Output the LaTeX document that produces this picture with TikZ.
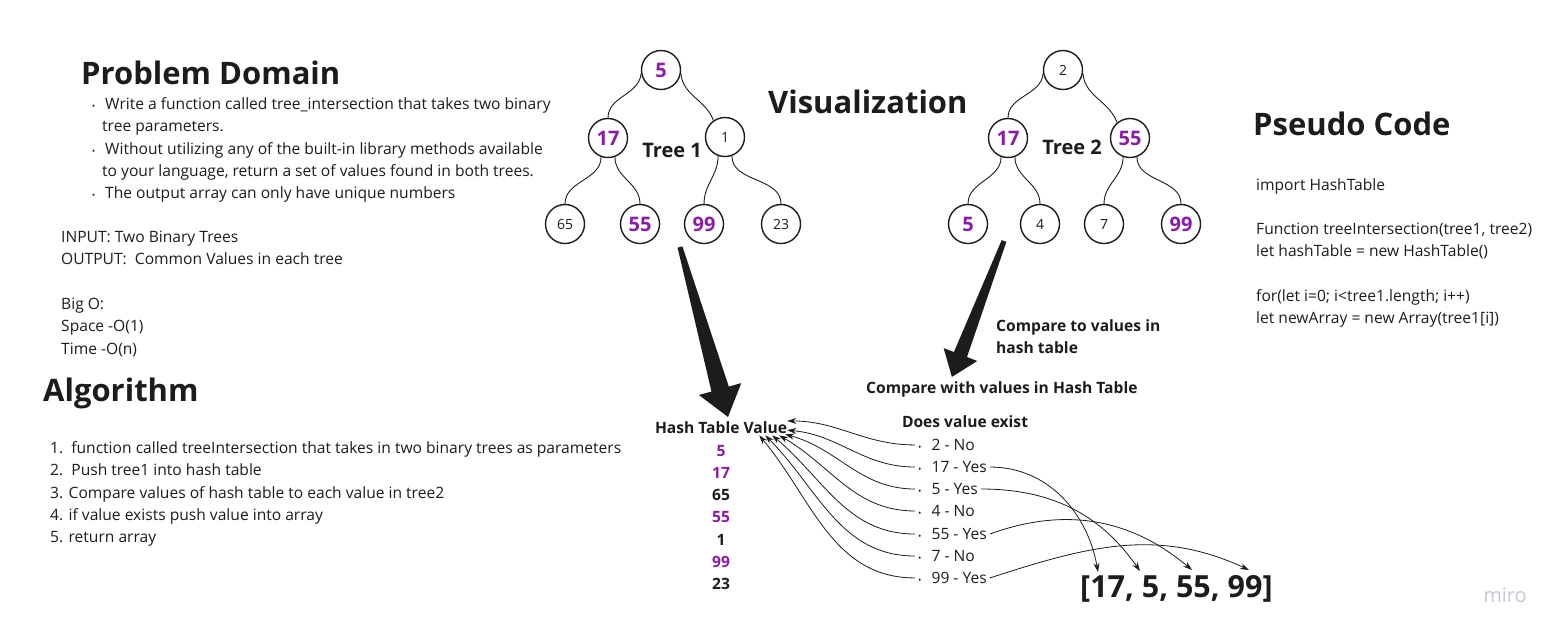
\documentclass[tikz,border=0pt]{standalone}
\usepackage{fontspec}
\setmainfont{Open Sans}
\usepackage{tikz}
\usetikzlibrary{positioning, arrows.meta, calc}

\definecolor{ink}{RGB}{28,28,28}
\definecolor{hit}{RGB}{139,27,170}
\definecolor{logo}{RGB}{196,198,208}

\newcommand{\bul}{{\fontsize{9}{9}\selectfont•}}
\newcommand{\fatarrow}[5]{%
  \coordinate (neck) at ($(#2)!#3!(#1)$);
  \fill[ink] ($(#1)!2.5pt!-90:(#2)$) -- ($(neck)!#5!-90:(#2)$) -- ($(neck)!#4!-90:(#2)$)
    -- (#2) -- ($(neck)!#4!90:(#2)$) -- ($(neck)!#5!90:(#2)$) -- ($(#1)!2.5pt!90:(#2)$) -- cycle;}

\tikzset{
  head/.style={font=\bfseries\fontsize{31}{36}\selectfont, text=ink, inner sep=0pt, anchor=base west},
  body/.style={font=\fontsize{15.6}{22.3}\selectfont, text=ink, inner sep=0pt, align=left, anchor=base west},
  lbl/.style={font=\bfseries\fontsize{15.6}{22.3}\selectfont, text=ink, inner sep=0pt},
  tnode/.style={circle, draw=ink, line width=1.4pt, minimum size=39pt, inner sep=0pt,
    font=\fontsize{14}{16}\selectfont, text=ink},
  common/.style={text=hit, font=\bfseries\fontsize{20}{22}\selectfont},
  twig/.style={out=-90, in=90},
  link/.style={-{Stealth[length=9pt,width=6pt]}, line width=0.8pt, draw=ink},
}

\begin{document}
\begin{tikzpicture}[x=1pt, y=-1pt, on grid, auto]
\useasboundingbox (0,0) rectangle (1565,638);

% headings
\node[head] (pd) at (81,84) {Problem Domain};
\node[head] (vis) at (768,113) {Visualization};
\node[head] (pc) at (1253,135) {Pseudo Code};
\node[head] (alg) at (43,401) {Algorithm};

% left column (base = last line)
\node[body] (task) at (102,198.7) {\llap{\bul\hspace{7pt}}\hspace{3pt}Write a function called tree\_intersection that takes two binary\\
  tree parameters.\\
  \llap{\bul\hspace{7pt}}\hspace{3pt}Without utilizing any of the built-in library methods available\\
  to your language, return a set of values found in both trees.\\
  \llap{\bul\hspace{7pt}}\hspace{3pt}The output array can only have unique numbers};
\node[body] (io) at (61,354) {INPUT: Two Binary Trees\\
  OUTPUT:\ \ Common Values in each tree\\[22.3pt]
  Big O:\\
  Space -O(1)\\
  Time -O(n)};
\node[body] (steps) at (50,542.7) {1.\ \ function called treeIntersection that takes in two binary trees as parameters\\
  2.\ \ Push tree1 into hash table\\
  3. Compare values of hash table to each value in tree2\\
  4. if value exists push value into array\\
  5. return array};

% pseudo code
\node[body] (code) at (1256,323.8) {import HashTable\\[22.3pt]
  Function treeIntersection(tree1, tree2)\\
  let hashTable = new HashTable()\\[22.3pt]
  for(let i=0; i<tree1.length; i++)\\
  let newArray = new Array(tree1[i])};

% tree 1
\node[tnode, common] (a5) at (661,70) {5};
\node[tnode, common] (a17) [below left=68pt and 53pt of a5] {17};
\node[tnode] (a1) [below right=67pt and 64pt of a5] {1};
\node[tnode] (a65) [below left=86pt and 43pt of a17] {65};
\node[tnode, common] (a55) [below right=86pt and 32pt of a17] {55};
\node[tnode, common] (a99) [below left=87pt and 21pt of a1] {99};
\node[tnode] (a23) [below right=87pt and 56pt of a1] {23};
\node[lbl, font=\bfseries\fontsize{20}{22}\selectfont] (tree1) at (672,150) {Tree 1};

% tree 2
\node[tnode] (b2) at (1063,70) {2};
\node[tnode, common] (b17) [below left=68pt and 55pt of b2] {17};
\node[tnode, common] (b55) [below right=68pt and 67pt of b2] {55};
\node[tnode, common] (b5) [below left=86pt and 40pt of b17] {5};
\node[tnode] (b4) [below right=86pt and 32pt of b17] {4};
\node[tnode] (b7) [below left=86pt and 26pt of b55] {7};
\node[tnode, common] (b99) [below right=86pt and 51pt of b55] {99};
\node[lbl, font=\bfseries\fontsize{20}{22}\selectfont] (tree2) at (1072,147) {Tree 2};

\path[draw=ink, line width=0.9pt]
  (a5.190) edge[out=-95, in=90] (a17.north)
  (a5.-10) edge[out=-85, in=110] (a1.125)
  (a17.250) edge[twig] (a65.north)
  (a17.290) edge[twig] (a55.north)
  (a1.250) edge[twig] (a99.north)
  (a1.290) edge[twig] (a23.north)
  (b2.190) edge[out=-95, in=90] (b17.north)
  (b2.-10) edge[out=-85, in=110] (b55.130)
  (b17.250) edge[twig] (b5.north)
  (b17.290) edge[twig] (b4.north)
  (b55.250) edge[twig] (b7.north)
  (b55.290) edge[twig] (b99.north);

% hash table
\node[lbl, anchor=base] (ht) at (721,433) {Hash Table Value};
\node[lbl, align=center, anchor=base] (hvals) at (721,589.8) {\textcolor{hit}{5}\\ \textcolor{hit}{17}\\ 65\\
  \textcolor{hit}{55}\\ 1\\ \textcolor{hit}{99}\\ 23};

\node[lbl, anchor=base west, align=left] (cmp1) at (996,353.3) {Compare to values in\\ hash table};
\node[lbl, anchor=base west] (cmp2) at (866,393) {Compare with values in Hash Table};
\node[lbl, anchor=base] (dve) at (965,427) {Does value exist};

% lookups
\node[body, inner sep=3pt] (n2) at (915,450.5) {\bul\hspace{10pt}2 - No};
\node[body, inner sep=3pt] (n17) at (915,472.5) {\bul\hspace{10pt}17 - Yes};
\node[body, inner sep=3pt] (n5) at (915,494.5) {\bul\hspace{10pt}5 - Yes};
\node[body, inner sep=3pt] (n4) at (915,516.5) {\bul\hspace{10pt}4 - No};
\node[body, inner sep=3pt] (n55) at (915,539.5) {\bul\hspace{10pt}55 - Yes};
\node[body, inner sep=3pt] (n7) at (915,561.5) {\bul\hspace{10pt}7 - No};
\node[body, inner sep=3pt] (n99) at (915,583.5) {\bul\hspace{10pt}99 - Yes};

% result
\node[head, font=\bfseries\fontsize{30.5}{34}\selectfont] (res) at (1080,597) {[17, 5, 55, 99]};
\coordinate (r17) at (1098,572);
\coordinate (r5) at (1140,571);
\coordinate (r55) at (1192,570);
\coordinate (r99) at (1249,570);

\node[font=\fontsize{20}{22}\selectfont, text=logo] (miro) at (1505,595) {miro};

% big arrows
\coordinate (fa1) at (680,247);
\coordinate (fa2) at (1004,241);
\fatarrow{fa1}{$(ht.north)+(7,-4)$}{29pt}{22pt}{9pt}
\fatarrow{fa2}{$(cmp2.north)+(-50,-4)$}{24pt}{18pt}{7pt}

% back to the hash table
\draw[link] (n2.west) to[out=180, in=0] (ht.north east);
\draw[link] (n17.west) to[out=180, in=-5] ($(ht.east)+(0,3)$);
\draw[link] (n5.west) to[out=180, in=-15] ($(ht.south east)+(-2,1)$);
\draw[link] (n4.west) to[out=180, in=-30] ($(ht.south east)+(-8,2)$);
\draw[link] (n55.west) to[out=180, in=-40] ($(ht.south east)+(-15,2)$);
\draw[link] (n7.west) to[out=180, in=-45] ($(ht.south east)+(-22,2)$);
\draw[link] (n99.west) to[out=180, in=-50] ($(ht.south east)+(-28,2)$);

% into the result
\draw[link] (n17.east) to[out=0, in=100] (r17);
\draw[link] (n5.east) to[out=0, in=125] (r5);
\draw[link] (n55.east) to[out=20, in=140] (r55);
\draw[link] (n99.east) to[out=18, in=155] (r99);
\end{tikzpicture}
\end{document}
